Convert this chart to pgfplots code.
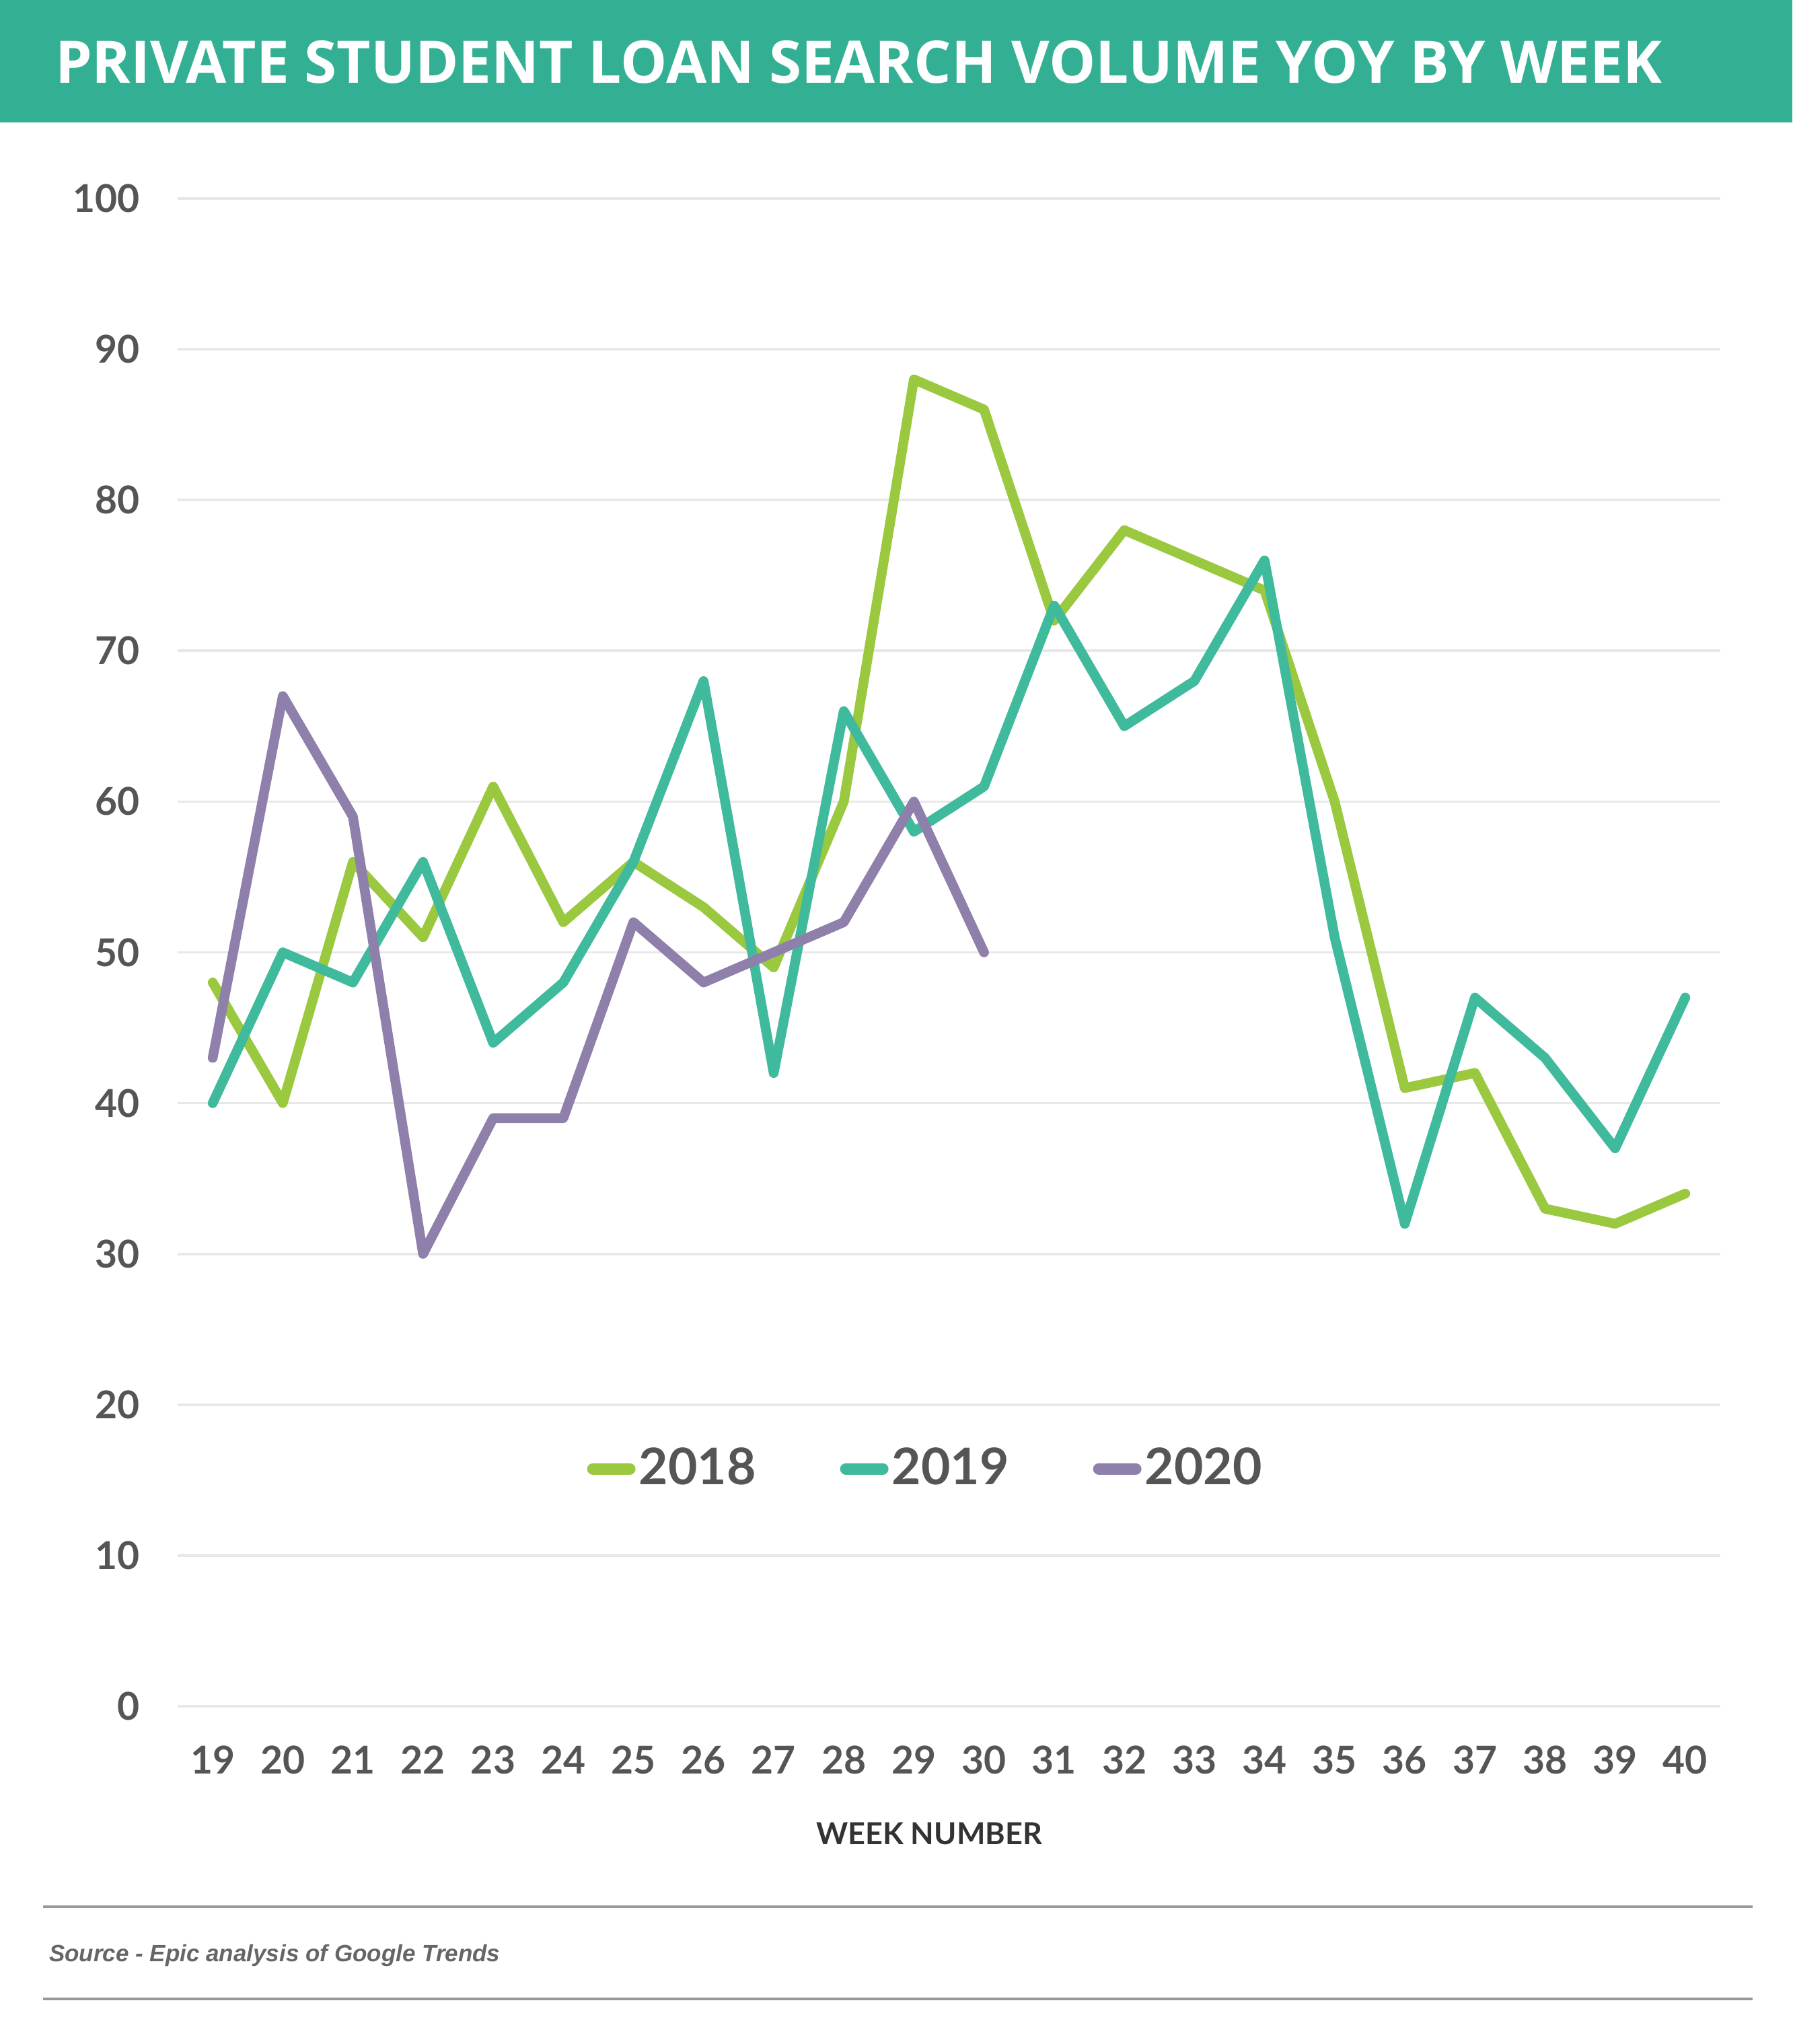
\documentclass[border=0pt]{standalone}
\usepackage{pgfplots}
\pgfplotsset{compat=1.18}
\usepackage{fontspec}
\setmainfont{Lato}
\newfontfamily\titlefont{Open Sans}
\newfontfamily\srcfont{Liberation Sans}
\definecolor{band}{HTML}{33B093}
\definecolor{c18}{HTML}{9AC83F}
\definecolor{c19}{HTML}{40BA9C}
\definecolor{c20}{HTML}{8F7FAB}
\definecolor{tick}{HTML}{555555}
\definecolor{gridc}{HTML}{E8E8E8}
\begin{document}
\begin{tikzpicture}[x=1pt,y=1pt]
\path[use as bounding box, fill=white] (0,0) rectangle (532.8,607.6);
\fill[band] (0,571.2) rectangle (532.8,607.6);
\node[anchor=base west, inner sep=0, text=white, font=\titlefont\bfseries\fontsize{17.45}{20}\selectfont] at (16.2,582.8) {PRIVATE STUDENT LOAN SEARCH VOLUME YOY BY WEEK};
\begin{axis}[
  at={(52.8pt,100.4pt)}, anchor=south west,
  width=458.6pt, height=448.2pt, scale only axis,
  xmin=18.5, xmax=40.5, ymin=0, ymax=100,
  xtick={19,...,40}, ytick={0,10,...,100},
  axis line style={draw=none},
  major tick length=0pt,
  ymajorgrids, major grid style={line width=0.75pt, gridc},
  tick label style={font=\bfseries\fontsize{11.4}{13}\selectfont, text=tick, inner sep=0pt},
  xticklabel style={yshift=-11.6pt},
  yticklabel style={xshift=-11pt},
  /pgf/number format/assume math mode=true,
  clip=false,
  every axis plot/.append style={line width=2.9pt, line join=round, line cap=round},
  legend columns=3,
  legend style={at={(0.265,0.1575)}, anchor=west, draw=none, fill=none, inner sep=0pt,
    font=\bfseries\fontsize{15}{18}\selectfont, text=tick,
    nodes={inner sep=0pt},
    /tikz/every odd column/.append style={column sep=1pt},
    /tikz/every even column/.append style={column sep=25pt}},
  legend image code/.code={\draw[line width=3.4pt, line cap=round] (1.7pt,0pt) -- (12.7pt,0pt);},
]
\addplot[c18] coordinates {(19,48)(20,40)(21,56)(22,51)(23,61)(24,52)(25,56)(26,53)(27,49)(28,60)(29,88)(30,86)(31,72)(32,78)(33,76)(34,74)(35,60)(36,41)(37,42)(38,33)(39,32)(40,34)};
\addlegendentry{2018}
\addplot[c19] coordinates {(19,40)(20,50)(21,48)(22,56)(23,44)(24,48)(25,56)(26,68)(27,42)(28,66)(29,58)(30,61)(31,73)(32,65)(33,68)(34,76)(35,51)(36,32)(37,47)(38,43)(39,37)(40,47)};
\addlegendentry{2019}
\addplot[c20] coordinates {(19,43)(20,67)(21,59)(22,30)(23,39)(24,39)(25,52)(26,48)(27,50)(28,52)(29,60)(30,50)};
\addlegendentry{2020}
\end{axis}
\node[anchor=base, inner sep=0, text=black!80, font=\bfseries\fontsize{9}{11}\selectfont] at (276.2,59.2) {WEEK NUMBER};
\draw[line width=0.8pt, black!40] (12.8,40.8) -- (521,40.8);
\draw[line width=0.8pt, black!40] (12.8,13.4) -- (521,13.4);
\node[anchor=base west, inner sep=0, text=black!60, font=\srcfont\bfseries\itshape\fontsize{7.0}{9}\selectfont] at (14.4,24.4) {Source - Epic analysis of Google Trends};
\end{tikzpicture}
\end{document}
